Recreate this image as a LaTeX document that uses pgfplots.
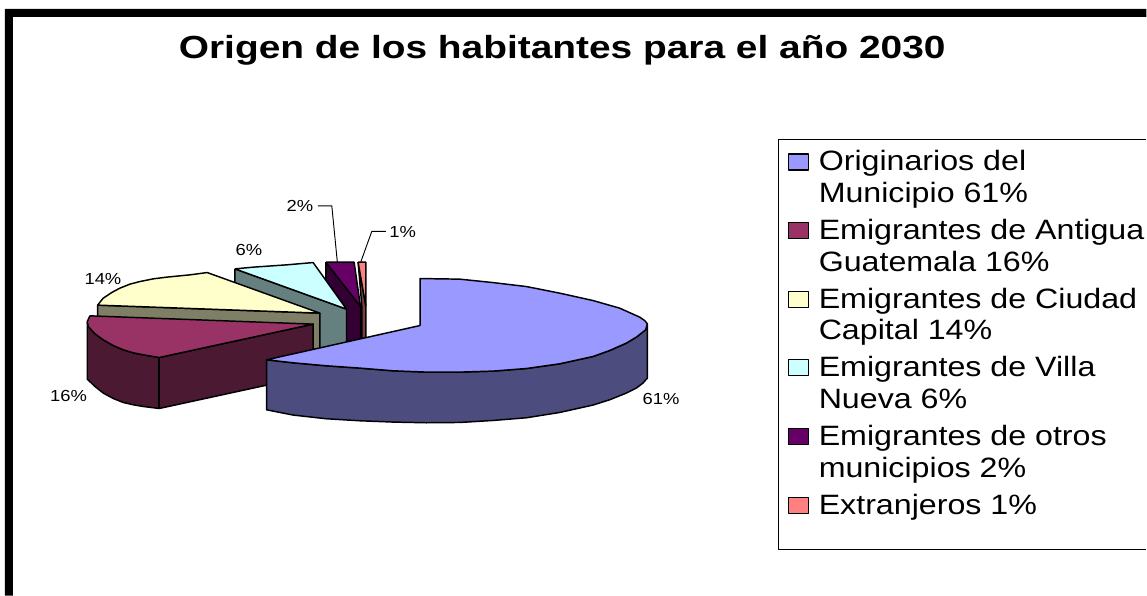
\documentclass[border=0pt]{standalone}
\usepackage{pgfplots}
\pgfplotsset{compat=1.18}
\usepackage{fontspec}
\setmainfont[FakeStretch=1.15]{Liberation Sans}
\newfontfamily\titlefont[FakeStretch=1.215]{Liberation Sans}

\definecolor{cBlue}{HTML}{9999FF}
\definecolor{cBlueD}{HTML}{4C4C7F}
\definecolor{cMaroon}{HTML}{993366}
\definecolor{cMaroonD}{HTML}{4C1933}
\definecolor{cYellow}{HTML}{FFFFCC}
\definecolor{cYellowD}{HTML}{7F7F66}
\definecolor{cCyan}{HTML}{CCFFFF}
\definecolor{cCyanD}{HTML}{667F7F}
\definecolor{cPurple}{HTML}{660066}
\definecolor{cPurpleD}{HTML}{330033}
\definecolor{cSalmon}{HTML}{FF8080}
\definecolor{cSalmonD}{HTML}{7F4040}

\begin{document}
\begin{tikzpicture}
% axis units are the pixels of the reference, 1px = 0.75pt
\begin{axis}[
  scale only axis, width=860.25pt, height=447pt,
  xmin=0, xmax=1147, ymin=0, ymax=596, y dir=reverse,
  hide axis, clip=true,
  every axis plot/.append style={forget plot, draw=black, line width=1.1pt, line join=round},
  legend style={at={(axis cs:788,148)}, anchor=north west, draw=none, fill=none,
    font=\fontsize{21}{23.7}\selectfont, inner sep=0pt, outer sep=0pt,
    row sep=7.1pt, column sep=5.5pt, cells={anchor=north west, align=left}},
  legend image code/.code={
    \draw[#1, line width=0.9pt] (0pt,-16.5pt) rectangle (15pt,-4.5pt);
  },
]
% hide axis leaves no box, so keep the full page size
\addplot[draw=none] coordinates {(0,0) (1147,596)};
% legend frame and page frame
\addplot[line width=0.7pt] coordinates {(1147,139.5) (778.5,139.5) (778.5,550) (1147,550)};
\addplot[fill=black, draw=none] coordinates {(5,596) (5,9) (1147,9) (1147,17) (13,17) (13,596)};

\addlegendimage{fill=cBlue, draw=black}
\addlegendentry{Originarios del\\Municipio 61\%}
\addlegendimage{fill=cMaroon, draw=black}
\addlegendentry{Emigrantes de Antigua\\Guatemala 16\%}
\addlegendimage{fill=cYellow, draw=black}
\addlegendentry{Emigrantes de Ciudad\\Capital 14\%}
\addlegendimage{fill=cCyan, draw=black}
\addlegendentry{Emigrantes de Villa\\Nueva 6\%}
\addlegendimage{fill=cPurple, draw=black}
\addlegendentry{Emigrantes de otros\\municipios 2\%}
\addlegendimage{fill=cSalmon, draw=black}
\addlegendentry{Extranjeros 1\%}

% slices back to front: 1%, 2%, 6%, 14%, 16%, 61%
\addplot[fill=cSalmonD] coordinates {(358.3,262.3) (362,306) (362,357) (366,357) (366,306) (358.3,262.3)};
\addplot[fill=cSalmon] coordinates {(358.3,262.3) (366,262.3) (366,306) (358.3,262.3)};

\addplot[fill=cPurpleD] coordinates {(326,262.3) (360.7,306.7) (360.7,358) (326,313) (326,262.3)};
\addplot[fill=cPurple] coordinates {(326,262.3) (354.3,262.3) (360.7,306.7) (326,262.3)};

\addplot[fill=cCyanD] coordinates {(235,269) (346.7,309.3) (346.7,360.3) (235,320) (235,269)};
\addplot[fill=cCyan] coordinates {(235,269) (253.3,267.3) (286.7,265) (313.3,262.7) (346.7,309.3) (235,269)};

\addplot[fill=cYellowD] coordinates {(97.7,305.3) (320,313.3) (320,364) (97.7,356) (97.7,305.3)};
\addplot[fill=cYellow] coordinates {(97.7,305.3) (103.3,298.3) (111.7,292.7) (120,288.3) (130,284.3) (140,281.7) (153.3,279) (166.7,277.3) (190,275) (207.3,272.7) (320,313.3) (97.7,305.3)};

\addplot[fill=cMaroonD] coordinates {(87.3,321.7) (88.3,326.7) (95,334) (103.3,340) (113.3,345.7) (123.3,350) (133.3,353) (143.3,355) (159.3,357.7) (313.3,324.3) (313.3,375.3) (159.3,408.7) (143.3,406.7) (133.3,405) (123.3,402.7) (113.3,398.7) (103.3,393.3) (95,386.7) (87.3,379.3) (87.3,321.7)};
\addplot[draw=black] coordinates {(159.3,357.7) (159.3,408.7)};
\addplot[fill=cMaroon] coordinates {(90,316) (87.3,321.7) (88.3,326.7) (95,334) (103.3,340) (113.3,345.7) (123.3,350) (133.3,353) (143.3,355) (159.3,357.7) (313.3,324.3) (90,316)};

\addplot[fill=cBlueD] coordinates {(266.7,360) (293.3,363) (326.7,366) (360,368.3) (393.3,371) (426.7,372.3) (460,372.3) (493.3,371.3) (526.7,368.7) (560,364) (593.3,356.7) (610,350.7) (626.7,343.3) (636.7,337.3) (646,330) (647.7,324) (647.7,378.3) (643.3,383.3) (636.7,388.3) (626.7,393.3) (610,400) (593.3,405.3) (560,412.7) (526.7,418) (493.3,420.7) (460,422.7) (426.7,423) (393.3,422.3) (360,421) (326.7,419) (293.3,415.3) (266.7,410) (266.7,360)};
\addplot[fill=cBlue] coordinates {(420.3,325.7) (420.3,278.7) (460,279.3) (493,282.7) (526.7,286.7) (560,293.3) (593.3,300.7) (620,308.3) (640,317.3) (645,320.7) (647.7,324) (646,330) (636.7,337.3) (626.7,343.3) (610,350.7) (593.3,356.7) (560,364) (526.7,368.7) (493.3,371.3) (460,372.3) (426.7,372.3) (393.3,371) (360,368.3) (326.7,366) (293.3,363) (266.7,360) (420.3,325.7)};

% leader lines
\addplot[line width=0.7pt] coordinates {(318,206) (332,206) (337.5,262)};
\addplot[line width=0.7pt] coordinates {(386,231.5) (372,231.5) (361,262)};

% text
\node[font=\fontsize{24}{28}\selectfont\titlefont\bfseries, anchor=center] at (axis cs:562.5,50) {Origen de los habitantes para el año 2030};
\node[font=\fontsize{12}{14}\selectfont] at (axis cs:300,206.5) {2\%};
\node[font=\fontsize{12}{14}\selectfont] at (axis cs:403,232.5) {1\%};
\node[font=\fontsize{12}{14}\selectfont] at (axis cs:249,250.5) {6\%};
\node[font=\fontsize{12}{14}\selectfont] at (axis cs:103,279) {14\%};
\node[font=\fontsize{12}{14}\selectfont] at (axis cs:68.5,396) {16\%};
\node[font=\fontsize{12}{14}\selectfont] at (axis cs:661.5,399.5) {61\%};
\end{axis}
\end{tikzpicture}
\end{document}
